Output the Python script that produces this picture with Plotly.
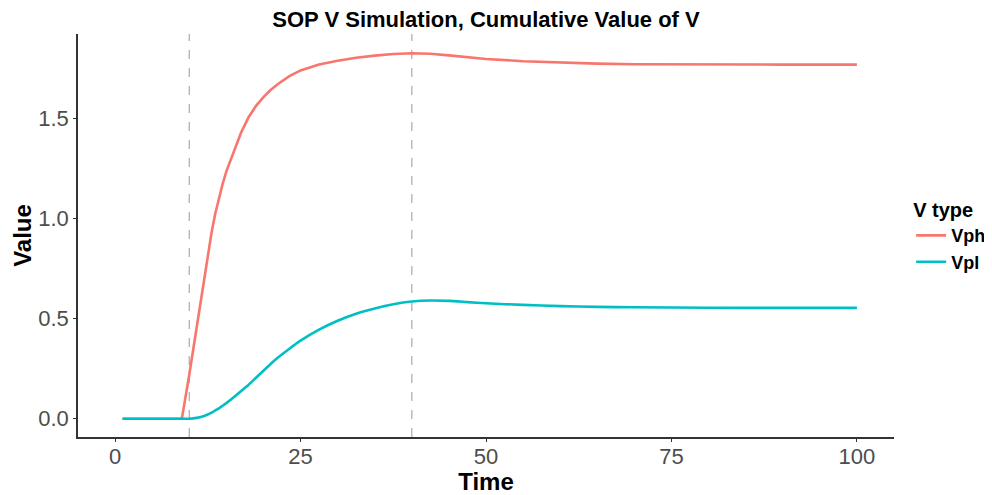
import plotly.graph_objects as go

time = [1, 5, 9, 10, 11, 12, 12.5, 13, 13.5, 14, 14.5, 15, 16, 17, 18, 19, 20,
        21, 22, 23.5, 25, 27.5, 30, 32.5, 35, 37.5, 40, 42.5, 45, 47.5, 50,
        55, 60, 65, 70, 80, 90, 100]
vph = [0, 0, 0, 0.22, 0.46, 0.70, 0.82, 0.93, 1.025, 1.105, 1.175, 1.237, 1.34,
       1.432, 1.508, 1.565, 1.608, 1.645, 1.675, 1.713, 1.742, 1.772, 1.79,
       1.805, 1.816, 1.824, 1.828, 1.825, 1.817, 1.807, 1.799, 1.788, 1.781,
       1.776, 1.773, 1.771, 1.771, 1.771]
vpl = [0, 0, 0, 0, 0.004, 0.014, 0.021, 0.03, 0.041, 0.052, 0.065, 0.078,
       0.107, 0.138, 0.17, 0.205, 0.24, 0.275, 0.307, 0.35, 0.39, 0.445, 0.49,
       0.525, 0.551, 0.572, 0.586, 0.591, 0.589, 0.583, 0.577, 0.569, 0.563,
       0.559, 0.557, 0.555, 0.554, 0.554]
vlines = [10, 40]
x_ticks = [0, 25, 50, 75, 100]
y_ticks = [0.0, 0.5, 1.0, 1.5]
y_tick_labels = ["0.0", "0.5", "1.0", "1.5"]

FONT = "Liberation Sans, Arial, sans-serif"

# the page body has an 8px margin, so the figure is 8px smaller than the window
W, H = 984, 487

fig = go.Figure()
fig.add_trace(go.Scatter(x=time, y=vph, mode="lines", name="Vph",
                         line=dict(color="#F8766D", width=2.6)))
fig.add_trace(go.Scatter(x=time, y=vpl, mode="lines", name="Vpl",
                         line=dict(color="#00BFC4", width=2.6, shape="spline",
                                   smoothing=0.6)))

for v in vlines:
    fig.add_shape(type="line", x0=v, x1=v, xref="x", y0=0, y1=1, yref="paper",
                  line=dict(color="#AAAAAA", width=1.2, dash="dash"), layer="below")

fig.update_layout(
    width=W, height=H,
    margin=dict(l=70, r=98, t=25.5, b=58.4, autoexpand=False),
    paper_bgcolor="white", plot_bgcolor="white",
    font=dict(family=FONT, color="black"),
    title=dict(text="<b>SOP V Simulation, Cumulative Value of V</b>",
               font=dict(size=22, color="black", family=FONT),
               x=0.5, xref="paper", xanchor="center",
               y=1 - 4 / H, yref="container", yanchor="top", pad=dict(t=0)),
    showlegend=True,
    legend=dict(title=dict(text="<b>V type</b>", font=dict(size=20, color="black")),
                font=dict(size=18, color="black", weight="bold"),
                x=1.021, xanchor="left", y=0.61, yanchor="top",
                bgcolor="rgba(0,0,0,0)", tracegroupgap=0, itemwidth=30),
)

fig.update_xaxes(range=[-5, 105], tickvals=x_ticks, ticktext=[str(t) for t in x_ticks],
                 showgrid=False, zeroline=False, automargin=False,
                 showline=True, linecolor="#333333", linewidth=1.5,
                 ticks="outside", ticklen=3, tickcolor="#333333", tickwidth=1.2,
                 ticklabelstandoff=-4,
                 tickfont=dict(size=22, color="#4D4D4D"),
                 title=dict(text="<b>Time</b>", font=dict(size=24, color="black"), standoff=2))
fig.update_yaxes(range=[-0.0916, 1.924], tickvals=y_ticks, ticktext=y_tick_labels,
                 showgrid=False, zeroline=False, automargin=False,
                 showline=True, linecolor="#333333", linewidth=1.5,
                 ticks="outside", ticklen=3, tickcolor="#333333", tickwidth=1.2,
                 tickfont=dict(size=22, color="#4D4D4D"),
                 title=dict(text="<b>Value</b>", font=dict(size=24, color="black"), standoff=0))

fig.write_html("out.html")
